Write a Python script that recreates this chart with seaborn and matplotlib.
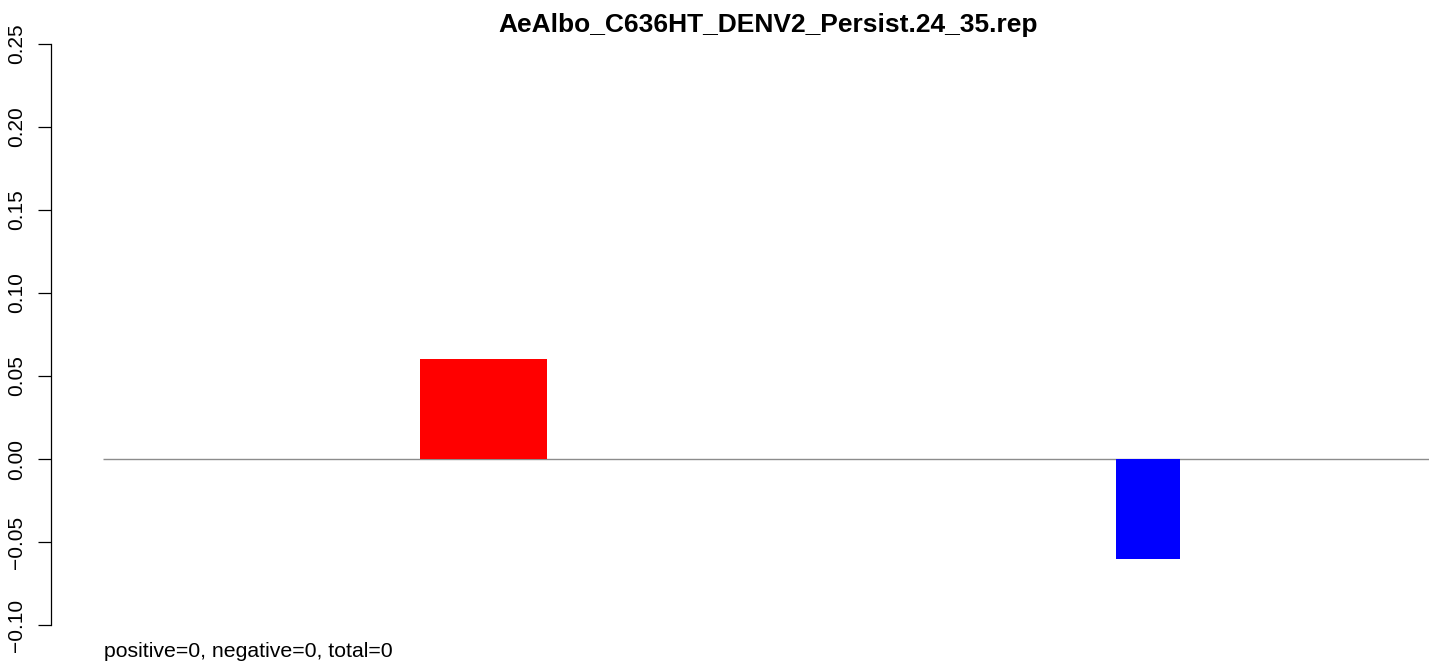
import matplotlib
matplotlib.use("Agg")
import matplotlib.pyplot as plt
import seaborn as sns

# Binned score track: each bin spans [start, end) along the x coordinate
bin_start = [369, 1065]
bin_end = [496, 1129]
bin_score = [0.06, -0.06]
bin_color = ["#FF0000", "#0000FF"]

baseline_from = 52
baseline_to = 1378

y_ticks = [-0.10, -0.05, 0.00, 0.05, 0.10, 0.15, 0.20, 0.25]
title = "AeAlbo_C636HT_DENV2_Persist.24_35.rep"
summary = "positive=0, negative=0, total=0"

sns.set_style("ticks")
plt.rcParams["font.family"] = ["Liberation Sans", "DejaVu Sans"]

W, H = 1429, 664
fig = plt.figure(figsize=(W / 100, H / 100), dpi=100)
ax = fig.add_axes([51 / W, (H - 625) / H, (W - 51) / W, (625 - 44) / H])

ax.hlines(0, baseline_from, baseline_to, color="#8c8c8c", linewidth=1.0, zorder=1)
widths = [e - s for s, e in zip(bin_start, bin_end)]
ax.bar(bin_start, bin_score, width=widths, align="edge", color=bin_color,
       linewidth=0, zorder=2)

ax.set_xlim(0, W - 51)
ax.set_ylim(min(y_ticks), max(y_ticks))
ax.set_yticks(y_ticks)
ax.set_yticklabels([f"{v:.2f}".replace("-", "\u2212") for v in y_ticks],
                   rotation=90, va="center", fontsize=15, color="black")
ax.tick_params(axis="y", length=9.5, width=0.9, pad=8.5, color="black")
ax.set_xticks([])
sns.despine(ax=ax, bottom=True, right=True, top=True)
ax.spines["left"].set_linewidth(0.9)
ax.spines["left"].set_color("black")
ax.patch.set_alpha(0)

fig.text(768 / W, 1 - 32 / H, title, ha="center", va="baseline",
         fontsize=19, fontweight="bold", color="black")
fig.text(104 / W, 1 - 657 / H, summary, ha="left", va="baseline",
         fontsize=15.3, color="black")

fig.savefig("out.png", dpi=100, facecolor="white")
